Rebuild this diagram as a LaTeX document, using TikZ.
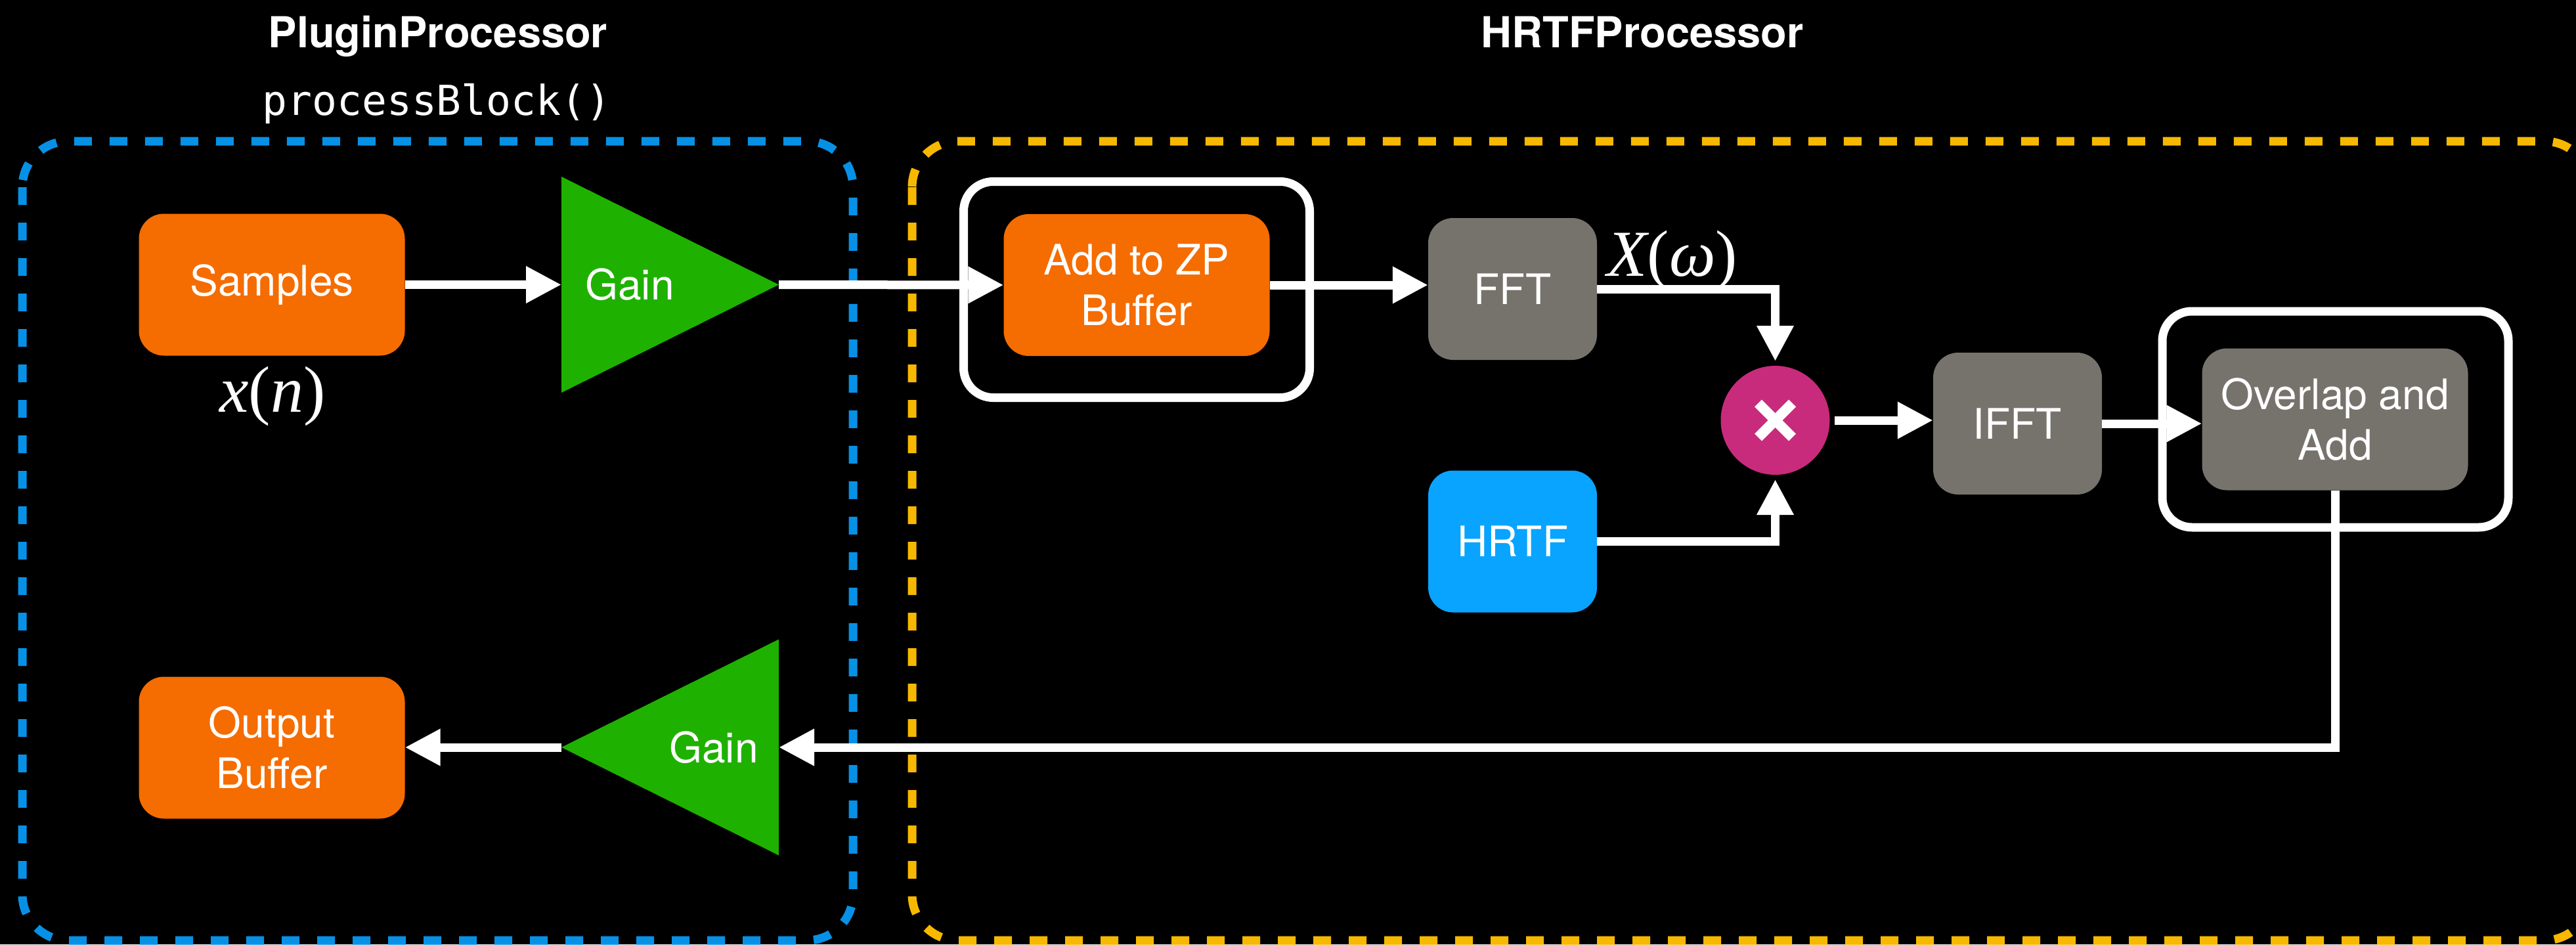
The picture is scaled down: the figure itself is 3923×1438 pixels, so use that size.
\documentclass[tikz,border=0pt]{standalone}
\usepackage{fontspec}
\setmainfont{TeX Gyre Heros}
\setmonofont{DejaVu Sans Mono}
\newfontfamily\serifit{Liberation Serif}
\usetikzlibrary{arrows.meta}

\definecolor{boxorange}{HTML}{F56C00}
\definecolor{boxgray}{HTML}{76736D}
\definecolor{hrtfblue}{HTML}{09A4FF}
\definecolor{gaingreen}{HTML}{1FB100}
\definecolor{mulpink}{HTML}{C92B7C}
\definecolor{regionblue}{HTML}{0791E6}
\definecolor{regionyellow}{HTML}{F7B800}

\begin{document}
\begin{tikzpicture}[x=1pt,y=-1pt,
  lbl/.style={text=white, font=\fontsize{64}{77}\selectfont, align=center},
  block/.style={lbl, rounded corners=38pt, inner sep=0pt, minimum height=216pt},
  wideblock/.style={block, minimum width=405pt},
  narrowblock/.style={block, minimum width=257pt},
  frame/.style={draw=white, line width=13pt, rounded corners=45pt,
    minimum width=527pt, minimum height=329pt, inner sep=0pt},
  region/.style={line width=13pt, dash pattern=on 27pt off 27pt, rounded corners=70pt},
  flow/.style={draw=white, line width=13pt, -{Triangle[length=54pt,width=53pt]}},
  tribox/.style={minimum width=331pt, minimum height=329pt, inner sep=0pt, outer sep=0pt},
  title/.style={text=white, font=\bfseries\fontsize{65}{70}\selectfont, anchor=base},
  mathlbl/.style={text=white, font=\serifit\fontsize{100}{110}\selectfont, anchor=base},
]
% canvas
\useasboundingbox (0,0) rectangle (3923,1438);
\fill[black] (0,0) rectangle (3923,1438);

% processor regions
\draw[region, draw=regionblue] (34,215) rectangle (1299,1432);
\draw[region, draw=regionyellow] (1389,215) rectangle (3945,1432);

% headings
\node[title] (plugintitle) at (667,72) {PluginProcessor};
\node[text=white, font=\ttfamily\fontsize{63}{70}\selectfont, anchor=base] (pbcall) at (665,175) {processBlock()};
\node[title] (hrtftitle) at (2501,72) {HRTFProcessor};

% outlined stages
\node[frame] (zpframe) at (1731,441) {};
\node[frame] (olaframe) at (3556.5,638.5) {};

% blocks
\node[wideblock, fill=boxorange] (samples) at (414,433.5) {Samples};
\node[wideblock, fill=boxorange] (outbuf) at (414,1138.5) {Output\\Buffer};
\node[wideblock, fill=boxorange] (zpbuf) at (1731,434) {Add to ZP\\Buffer};
\node[narrowblock, fill=boxgray] (fft) at (2303.5,440) {FFT};
\node[narrowblock, fill=hrtfblue] (hrtf) at (2303.5,824.5) {HRTF};
\node[narrowblock, fill=boxgray] (ifft) at (3072.5,645) {IFFT};
\node[wideblock, fill=boxgray] (ola) at (3556,638.5) {Overlap and\\Add};

% gain stages
\node[tribox] (gain1) at (1020.5,433.5) {};
\fill[gaingreen] (gain1.north west) -- (gain1.east) -- (gain1.south west) -- cycle;
\node[lbl] (gain1txt) at (959,433) {Gain};
\node[tribox] (gain2) at (1020.5,1138) {};
\fill[gaingreen] (gain2.north east) -- (gain2.west) -- (gain2.south east) -- cycle;
\node[lbl] (gain2txt) at (1087,1138) {Gain};

% multiplier
\node[circle, fill=mulpink, minimum size=166pt, inner sep=0pt, outer sep=7pt] (mul) at (2703.5,640) {};
\draw[white, line width=15.5pt] ([shift={(-26,-26)}]mul.center) -- ([shift={(26,26)}]mul.center);
\draw[white, line width=15.5pt] ([shift={(-26,26)}]mul.center) -- ([shift={(26,-26)}]mul.center);

% signal labels
\node[mathlbl] (xn) at (415,627) {\itshape x\upshape(\itshape n\upshape)};
\node[mathlbl] (xw) at (2547,420) {\itshape X\upshape(\itshape ω\upshape)};

% signal flow
\draw[flow] (samples.east) -- (gain1.west);
\draw[flow] (gain1.east) -- (zpbuf.west);
\draw[flow] (zpbuf.east) -- (zpbuf.east -| fft.west);
\draw[flow] (fft.east) -| (mul.north);
\draw[flow] (hrtf.east) -| (mul.south);
\draw[flow] (mul.east) -- (mul.east -| ifft.west);
\draw[flow] (ifft.east) -- (ifft.east -| ola.west);
\draw[flow] (ola.south) |- (gain2.east);
\draw[flow] (gain2.west) -- (gain2.west -| outbuf.east);
\end{tikzpicture}
\end{document}
